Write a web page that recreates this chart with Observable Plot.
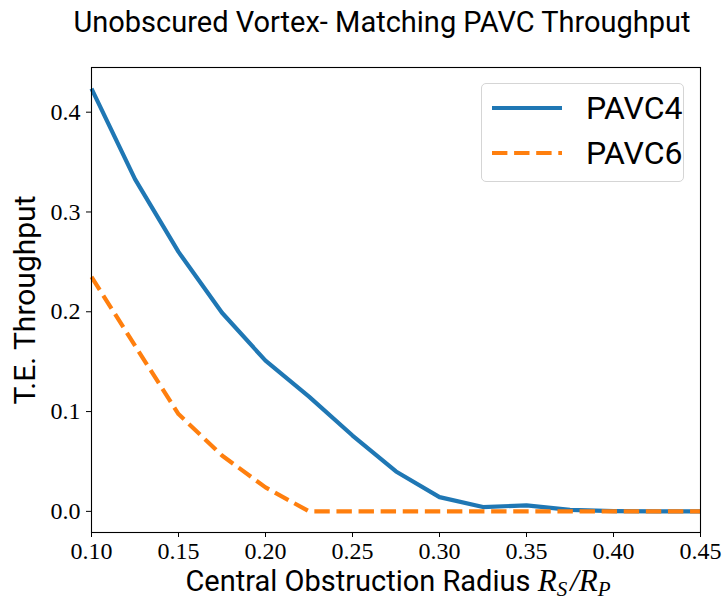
<!DOCTYPE html>
<html>
<head>
<meta charset="utf-8">
<script src="https://cdn.jsdelivr.net/npm/d3@7"></script>
<script src="https://cdn.jsdelivr.net/npm/@observablehq/plot@0.6"></script>
<style>
  body { margin: 0; background: #fff; }
  #wrap { position: relative; width: 724px; height: 604px; }
  #title { height: 56px; width: 724px; font-family: Roboto, "DejaVu Sans", sans-serif; font-size: 29px; line-height: 44px; text-align: center; color: #000; padding-left: 40px; box-sizing: border-box; }
  #legend { position: absolute; left: 481px; top: 83px; width: 201px; height: 97px; border: 1px solid #d5d5d5; border-radius: 5px; background: rgba(255,255,255,0.8); font-family: Roboto, "DejaVu Sans", sans-serif; font-size: 32px; }
  .row { position: absolute; left: 10px; height: 30px; display: flex; align-items: center; }
  .row span { margin-left: 24px; }
</style>
</head>
<body>
<div id="wrap">
  <div id="title">Unobscured Vortex- Matching PAVC Throughput</div>
  <div id="chart"></div>
  <div id="legend"></div>
</div>
<script>
const radius = [0.100, 0.125, 0.150, 0.175, 0.200, 0.225, 0.250, 0.275, 0.300, 0.325, 0.350, 0.375, 0.400, 0.425, 0.450];
const pavc4 = [0.4236, 0.333, 0.260, 0.199, 0.151, 0.115, 0.076, 0.040, 0.0143, 0.0043, 0.006, 0.0015, 0.0003, 0.0, 0.0];
const pavc6 = [0.235, 0.166, 0.0975, 0.056, 0.024, 0.0, 0.0, 0.0, 0.0, 0.0, 0.0, 0.0, 0.0, 0.0, 0.0];
const seriesNames = ["PAVC4", "PAVC6"];
const seriesColors = ["#1f77b4", "#ff7f0e"];
const seriesDash = [null, "15.4,6.7"];
const xTicks = [0.10, 0.15, 0.20, 0.25, 0.30, 0.35, 0.40, 0.45];
const yTicks = [0.0, 0.1, 0.2, 0.3, 0.4];
const xLabel = "Central Obstruction Radius";
const yLabel = "T.E. Throughput";

const rows4 = radius.map((r, i) => ({r, v: pavc4[i]}));
const rows6 = radius.map((r, i) => ({r, v: pavc6[i]}));

const ymax = d3.max(pavc4), yr = ymax * 0.05;

const plot = Plot.plot({
  width: 724,
  height: 548,
  marginTop: 11,
  marginBottom: 72,
  marginLeft: 91,
  marginRight: 24,
  style: {fontFamily: '"Liberation Serif", serif', fontSize: "24px", color: "#000", background: "#fff"},
  x: {domain: [0.1, 0.45], label: null},
  y: {domain: [-yr, ymax + yr], label: null},
  marks: [
    Plot.axisX({ticks: xTicks, tickFormat: d3.format(".2f"), tickSize: 5, tickPadding: 4, label: null, fontSize: 24}),
    Plot.axisY({ticks: yTicks, tickFormat: d3.format(".1f"), tickSize: 5, tickPadding: 6, label: null, fontSize: 24}),
    Plot.line(rows4, {x: "r", y: "v", stroke: seriesColors[0], strokeWidth: 4.2, strokeLinejoin: "round", strokeLinecap: "butt"}),
    Plot.line(rows6, {x: "r", y: "v", stroke: seriesColors[1], strokeWidth: 4.2, strokeDasharray: seriesDash[1], strokeLinejoin: "round", strokeLinecap: "butt"}),
    Plot.frame({stroke: "#000", strokeWidth: 1.1})
  ]
});
document.getElementById("chart").appendChild(plot);

const svg = d3.select(plot);
svg.append("text")
  .attr("x", 398).attr("y", 535)
  .attr("text-anchor", "middle")
  .attr("font-family", 'Roboto, "DejaVu Sans", sans-serif')
  .attr("font-size", 29)
  .attr("fill", "#000")
  .call(t => {
    t.append("tspan").text(xLabel + " ");
    const m = t.append("tspan").attr("font-family", '"Liberation Serif", serif').attr("font-style", "italic").attr("font-size", 31);
    m.append("tspan").text("R");
    m.append("tspan").attr("font-size", 21).attr("dy", 5).text("S");
    m.append("tspan").attr("dy", -5).attr("dx", 3).text("/R");
    m.append("tspan").attr("font-size", 21).attr("dy", 5).text("P");
  });
svg.append("text")
  .attr("transform", "translate(35,244) rotate(-90)")
  .attr("text-anchor", "middle")
  .attr("font-family", 'Roboto, "DejaVu Sans", sans-serif')
  .attr("font-size", 30)
  .attr("fill", "#000")
  .text(yLabel);

const leg = document.getElementById("legend");
seriesNames.forEach((name, i) => {
  const row = document.createElement("div");
  row.className = "row";
  row.style.top = (9 + i * 45) + "px";
  row.innerHTML = `<svg width="70" height="10"><line x1="0" x2="70" y1="5" y2="5" stroke="${seriesColors[i]}" stroke-width="4.2" ${seriesDash[i] ? `stroke-dasharray="${seriesDash[i]}"` : ""}/></svg><span>${name}</span>`;
  leg.appendChild(row);
});
</script>
</body>
</html>
